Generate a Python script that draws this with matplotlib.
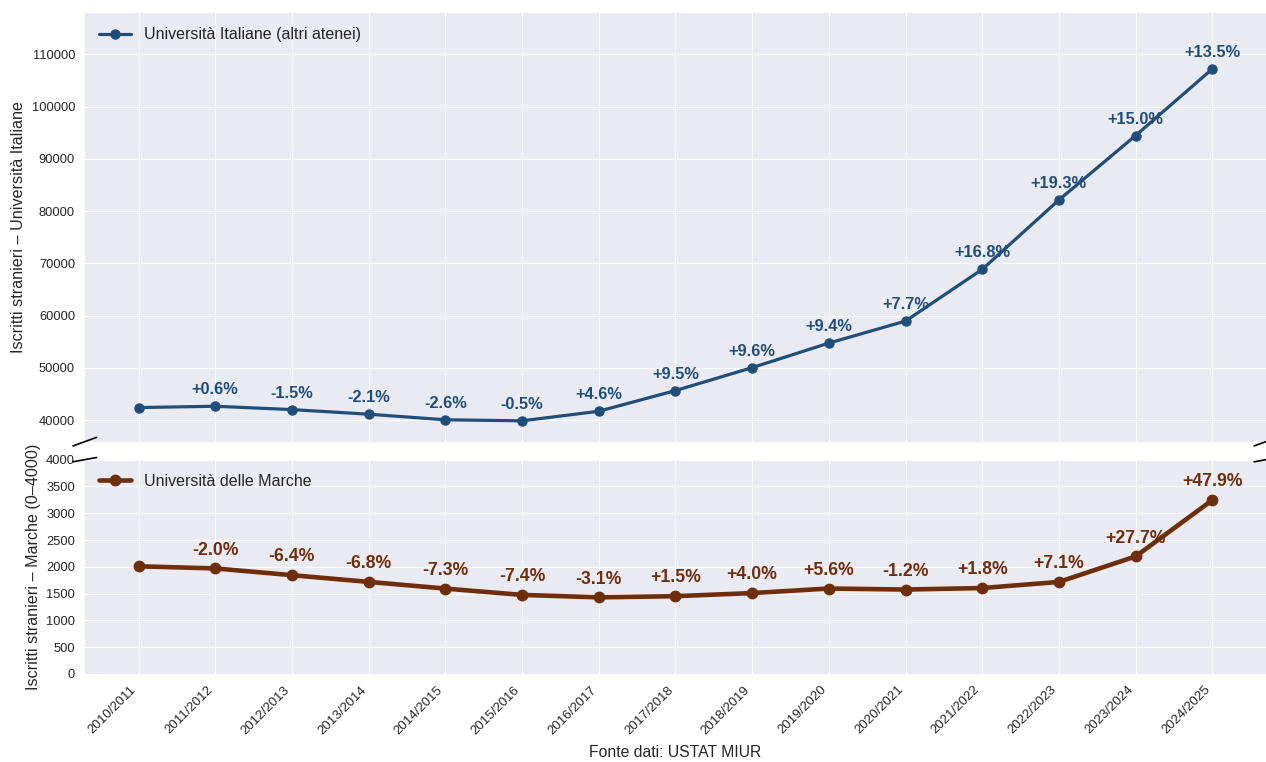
import matplotlib
matplotlib.use("Agg")
import matplotlib.pyplot as plt
import seaborn as sns

# dati
anni = ['2010/2011', '2011/2012', '2012/2013', '2013/2014', '2014/2015',
        '2015/2016', '2016/2017', '2017/2018', '2018/2019', '2019/2020',
        '2020/2021', '2021/2022', '2022/2023', '2023/2024', '2024/2025']
italia = [42400, 42650, 42010, 41130, 40060, 39860, 41690, 45650,
          50040, 54740, 58960, 68860, 82150, 94480, 107230]
marche = [2010, 1970, 1844, 1719, 1594, 1476, 1430, 1452,
          1510, 1595, 1576, 1604, 1718, 2194, 3245]

sns.set_style('darkgrid')
plt.rcParams['font.family'] = ['Liberation Sans', 'DejaVu Sans']

col_it = '#1f4e79'
col_mc = '#6e2e0c'

fig, (ax1, ax2) = plt.subplots(2, 1, figsize=(12.66, 7.62), dpi=100, sharex=True,
                               gridspec_kw={'height_ratios': [2, 1]})
fig.subplots_adjust(left=0.067, right=1.0, top=0.983, bottom=0.1155, hspace=0.056)

x = list(range(len(anni)))

# università italiane (sopra)
ax1.plot(x, italia, color=col_it, lw=2.3, marker='o', ms=6.5,
         label='Università Italiane (altri atenei)')
for i in range(1, len(italia)):
    pct = (italia[i] / italia[i - 1] - 1) * 100
    ax1.annotate(f'{pct:+.1f}%', (x[i], italia[i]), xytext=(0, 6.5),
                 textcoords='offset points', ha='center', va='bottom',
                 fontsize=11.8, fontweight='bold', color=col_it)
ax1.set_ylim(min(italia) * 0.9, max(italia) * 1.1)
ax1.set_yticks(range(40000, 110001, 10000))
ax1.set_ylabel('Iscritti stranieri – Università Italiane', fontsize=11.6)
ax1.legend(loc='upper left', fontsize=11.5, frameon=False)

# marche (sotto)
ax2.plot(x, marche, color=col_mc, lw=3.3, marker='o', ms=7.5,
         label='Università delle Marche')
for i in range(1, len(marche)):
    pct = (marche[i] / marche[i - 1] - 1) * 100
    ax2.annotate(f'{pct:+.1f}%', (x[i], marche[i]), xytext=(0, 7),
                 textcoords='offset points', ha='center', va='bottom',
                 fontsize=12.7, fontweight='bold', color=col_mc)
ax2.set_ylim(0, 4000)
ax2.set_yticks(range(0, 4001, 500))
ax2.set_ylabel('Iscritti stranieri – Marche (0–4000)', fontsize=11.6)
ax2.legend(loc='upper left', fontsize=11.5, frameon=False)

ax2.set_xticks(x)
ax2.set_xticklabels(anni, rotation=45, ha='right', fontsize=9.5)
ax2.set_xlabel('Fonte dati: USTAT MIUR', fontsize=11.3, labelpad=6)

for ax in (ax1, ax2):
    ax.tick_params(axis='y', labelsize=9.3)
    for s in ax.spines.values():
        s.set_visible(False)

# segni di interruzione asse
d = 0.01
kw = dict(transform=ax1.transAxes, color='k', clip_on=False, lw=1.2)
ax1.plot((-d, +d), (-d, +d), **kw)
ax1.plot((1 - d, 1 + d), (-d, +d), **kw)
kw.update(transform=ax2.transAxes)
ax2.plot((-d, +d), (1 - d, 1 + d), **kw)
ax2.plot((1 - d, 1 + d), (1 - d, 1 + d), **kw)

fig.savefig('out.png', dpi=100)
